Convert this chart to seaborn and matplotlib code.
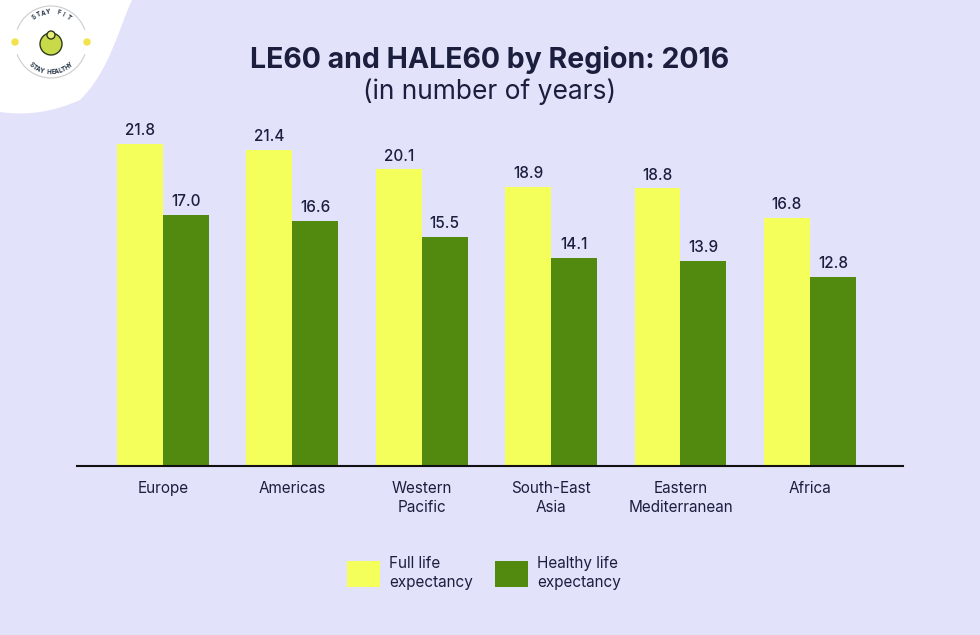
import matplotlib
matplotlib.use("Agg")
import matplotlib.pyplot as plt
from matplotlib.path import Path
from matplotlib.patches import PathPatch, Circle, Arc, Patch
import numpy as np
import pandas as pd
import seaborn as sns

# Dane
regions = ["Europe", "Americas", "Western\nPacific", "South-East\nAsia",
           "Eastern\nMediterranean", "Africa"]
full_life = [21.8, 21.4, 20.1, 18.9, 18.8, 16.8]
healthy_life = [17.0, 16.6, 15.5, 14.1, 13.9, 12.8]
series = ["Full life\nexpectancy", "Healthy life\nexpectancy"]

bg = "#E3E2FB"
yellow = "#F4FF5C"
green = "#528A10"
navy = "#1B1E3D"

df = pd.DataFrame({
    "region": regions * 2,
    "value": full_life + healthy_life,
    "series": [series[0]] * len(regions) + [series[1]] * len(regions),
})

sns.set_theme(style="white")
plt.rcParams["font.family"] = ["Inter", "DejaVu Sans"]

fig = plt.figure(figsize=(9.8, 6.35), dpi=100, facecolor=bg)
W, H = 980, 635
ax = fig.add_axes([77 / W, 1 - 466 / H, (903 - 77) / W, (466 - 111.5) / H])
ax.set_facecolor(bg)

sns.barplot(data=df, x="region", y="value", hue="series", order=regions,
            hue_order=series, palette=[yellow, green], width=0.71, gap=0,
            saturation=1, linewidth=0, ax=ax, legend=False)

for c in ax.containers:
    ax.bar_label(c, fmt="%.1f", padding=4, fontsize=11, color=navy, fontweight="medium")

ax.set_ylim(0, 24)
ax.set_xlim(-0.665, 5.72)
ax.set_xlabel("")
ax.set_ylabel("")
ax.set_yticks([])
for s in ["top", "right", "left"]:
    ax.spines[s].set_visible(False)
ax.spines["bottom"].set_color("#111111")
ax.spines["bottom"].set_linewidth(1.5)
ax.tick_params(axis="x", length=0, pad=11, labelsize=11, labelcolor=navy)
for lab in ax.get_xticklabels():
    lab.set_linespacing(1.3)

# Tytuł
fig.text(490 / W, 1 - 60 / H, "LE60 and HALE60 by Region: 2016", ha="center", va="center",
         fontsize=20.5, fontweight="bold", color=navy)
fig.text(490 / W, 1 - 92 / H, "(in number of years)", ha="center", va="center",
         fontsize=19, color=navy)

# Legenda
handles = [Patch(facecolor=yellow, edgecolor="none", label=series[0]),
           Patch(facecolor=green, edgecolor="none", label=series[1])]
leg = fig.legend(handles=handles, loc="center", bbox_to_anchor=(484 / W, 1 - 573 / H),
                 ncol=2, frameon=False, fontsize=11, handlelength=2.2, handleheight=2.2,
                 handletextpad=0.6, columnspacing=1.4, labelcolor=navy)
for t in leg.get_texts():
    t.set_linespacing(1.35)

# Logo w lewym górnym rogu
ov = fig.add_axes([0, 0, 1, 1], zorder=-1)
ov.set_xlim(0, W)
ov.set_ylim(H, 0)
ov.axis("off")
verts = [(0, 0), (132, 0), (118, 30), (110, 70), (80, 100), (40, 118), (0, 112), (0, 0)]
codes = [Path.MOVETO, Path.LINETO, Path.CURVE4, Path.CURVE4, Path.CURVE4,
         Path.CURVE3, Path.CURVE3, Path.CLOSEPOLY]
ov.add_patch(PathPatch(Path(verts, codes), facecolor="white", edgecolor="none"))
ov.add_patch(Arc((51, 42), 72, 72, theta1=200, theta2=340, color="#cccccc", lw=0.8))
ov.add_patch(Arc((51, 42), 72, 72, theta1=20, theta2=160, color="#cccccc", lw=0.8))
for x in (15, 87):
    ov.add_patch(Circle((x, 42), 3, color="#F2E34C"))
for txt, a0, a1 in [("STAY FIT", 125, 55), ("STAY HEALTHY", 230, 310)]:
    angs = np.linspace(a0, a1, len(txt))
    for ch, a in zip(txt, angs):
        r = 30
        x = 51 + r * np.cos(np.radians(a))
        y = 42 - r * np.sin(np.radians(a))
        rot = a - 90 if a < 180 else a + 90
        ov.text(x, y, ch, fontsize=4.5, fontweight="bold", color="#234", ha="center",
                va="center", rotation=rot)
ov.add_patch(Circle((51, 44), 11, facecolor="#C8DA4A", edgecolor="#2f3a1a", lw=1))
ov.add_patch(Circle((51, 35), 4, facecolor="#E8EE7A", edgecolor="#2f3a1a", lw=1))

fig.savefig("out.png", dpi=100, facecolor=bg)
